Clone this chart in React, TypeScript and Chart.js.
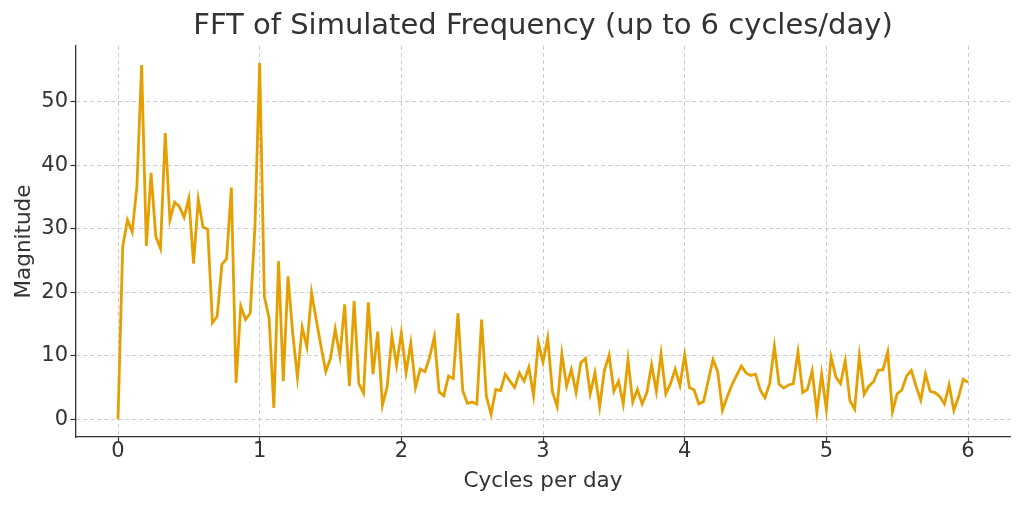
import React, { useEffect, useRef } from "react";
import { Chart, registerables } from "chart.js";

Chart.register(...registerables);

const TITLE = "FFT of Simulated Frequency (up to 6 cycles/day)";
const X_LABEL = "Cycles per day";
const Y_LABEL = "Magnitude";

// FFT bin spacing (cycles/day)
const FREQ_STEP = 1 / 30;

// Magnitudes, bin by bin
const band0 = [0, 27.2, 31.4, 29.5, 36.6, 55.8, 27.3, 38.8, 28.8, 26.9, 45.1, 31.4, 34.2, 33.5, 31.8, 34.8, 24.5, 34.6, 30.3, 29.9, 15.2, 16.2, 24.4, 25.3, 36.5, 5.7, 17.8, 15.7, 16.7, 30.3];
const band1 = [56.1, 19.3, 15.9, 1.8, 24.9, 6.0, 22.5, 13.5, 6.6, 14.5, 11.4, 19.9, 15.6, 11.4, 7.5, 9.6, 14.2, 9.9, 18.1, 5.2, 18.6, 5.6, 4.1, 18.4, 7.1, 13.8, 2.2, 5.1, 13.1, 8.5];
const band2 = [13.6, 7.3, 12.0, 5.0, 7.9, 7.5, 9.8, 13.0, 4.3, 3.7, 6.8, 6.4, 16.7, 4.5, 2.5, 2.7, 2.4, 15.7, 3.6, 0.8, 4.7, 4.5, 7.1, 6.0, 5.0, 7.3, 6.0, 8.2, 3.7, 12.1];
const band3 = [9.0, 12.8, 4.3, 2.0, 10.3, 5.2, 7.8, 4.2, 8.9, 9.6, 4.0, 7.3, 2.0, 7.7, 10.1, 4.4, 6.0, 2.4, 9.4, 2.7, 4.7, 2.4, 4.2, 8.6, 4.4, 10.3, 4.0, 5.6, 7.9, 5.3];
const band4 = [10.1, 5.0, 4.6, 2.4, 2.8, 6.1, 9.4, 7.5, 1.4, 3.5, 5.4, 6.9, 8.4, 7.3, 6.9, 7.1, 4.6, 3.4, 5.6, 11.5, 5.5, 4.9, 5.4, 5.6, 10.6, 4.2, 4.7, 7.6, 1.1, 7.1];
const band5 = [1.6, 9.8, 6.7, 5.6, 9.2, 2.9, 1.6, 10.0, 3.9, 5.2, 5.9, 7.7, 7.8, 10.6, 1.2, 4.0, 4.6, 6.8, 7.7, 5.2, 3.0, 7.1, 4.4, 4.2, 3.6, 2.4, 5.4, 1.4, 3.5, 6.3];
const band6 = [5.8];

const magnitude = [...band0, ...band1, ...band2, ...band3, ...band4, ...band5, ...band6];

const xTicks = [0, 1, 2, 3, 4, 5, 6];
const yTicks = [0, 10, 20, 30, 40, 50];

const FONT = "'DejaVu Sans', sans-serif";
const TEXT = "#333333";
const GRID = "#cccccc";
const LINE = "#E69F00";

export default function App() {
  const ref = useRef<HTMLCanvasElement>(null);

  useEffect(() => {
    const data = magnitude.map((m, i) => ({ x: i * FREQ_STEP, y: m }));
    const chart = new Chart(ref.current as HTMLCanvasElement, {
      type: "line",
      data: {
        datasets: [
          {
            data,
            borderColor: LINE,
            backgroundColor: LINE,
            borderWidth: 2.8,
            pointRadius: 0,
            tension: 0,
            fill: false,
          },
        ],
      },
      options: {
        animation: false,
        responsive: false,
        maintainAspectRatio: false,
        layout: { padding: { left: 0, right: 13.5, top: 0, bottom: 0 } },
        plugins: {
          legend: { display: false },
          tooltip: { enabled: false },
          title: {
            display: true,
            fullSize: false,
            text: TITLE,
            color: TEXT,
            font: { family: FONT, size: 29, weight: "normal", lineHeight: 1.2 },
            padding: { top: 9, bottom: 2.2 },
          },
        },
        scales: {
          x: {
            type: "linear",
            min: -0.3,
            max: 6.3,
            afterBuildTicks: (s: any) => {
              s.ticks = xTicks.map((v) => ({ value: v }));
            },
            afterFit: (s: any) => {
              s.height = 69;
            },
            ticks: {
              color: TEXT,
              font: { family: FONT, size: 21, lineHeight: 1 },
              padding: -1,
              maxRotation: 0,
              autoSkip: false,
              callback: (v: any) => String(v),
            },
            grid: {
              color: GRID,
              lineWidth: 1,
              drawTicks: true,
              tickLength: 5,
              tickColor: TEXT,
              tickWidth: 1.2,
            },
            border: { display: true, color: TEXT, width: 1.3, dash: [4, 3] },
            title: {
              display: true,
              text: X_LABEL,
              color: TEXT,
              font: { family: FONT, size: 21.5, lineHeight: 1.2 },
              padding: { top: 0, bottom: 12 },
            },
          },
          y: {
            type: "linear",
            min: -2.8,
            max: 58.8,
            afterBuildTicks: (s: any) => {
              s.ticks = yTicks.map((v) => ({ value: v }));
            },
            afterFit: (s: any) => {
              s.width = 75.5;
            },
            ticks: {
              color: TEXT,
              font: { family: FONT, size: 21 },
              padding: 2.5,
              autoSkip: false,
              callback: (v: any) => String(v),
            },
            grid: {
              color: GRID,
              lineWidth: 1,
              drawTicks: true,
              tickLength: 5,
              tickColor: TEXT,
              tickWidth: 1.2,
            },
            border: { display: true, color: TEXT, width: 1.3, dash: [4, 3] },
            title: {
              display: true,
              text: Y_LABEL,
              color: TEXT,
              font: { family: FONT, size: 21.5, lineHeight: 1.2 },
              padding: { top: 11.5, bottom: 0 },
            },
          },
        },
      },
    });
    return () => chart.destroy();
  }, []);

  return (
    <div style={{ position: "fixed", left: 0, top: 0, width: 1024, height: 506, background: "#ffffff" }}>
      <canvas ref={ref} width={1024} height={506} style={{ width: 1024, height: 506, display: "block" }} />
    </div>
  );
}
